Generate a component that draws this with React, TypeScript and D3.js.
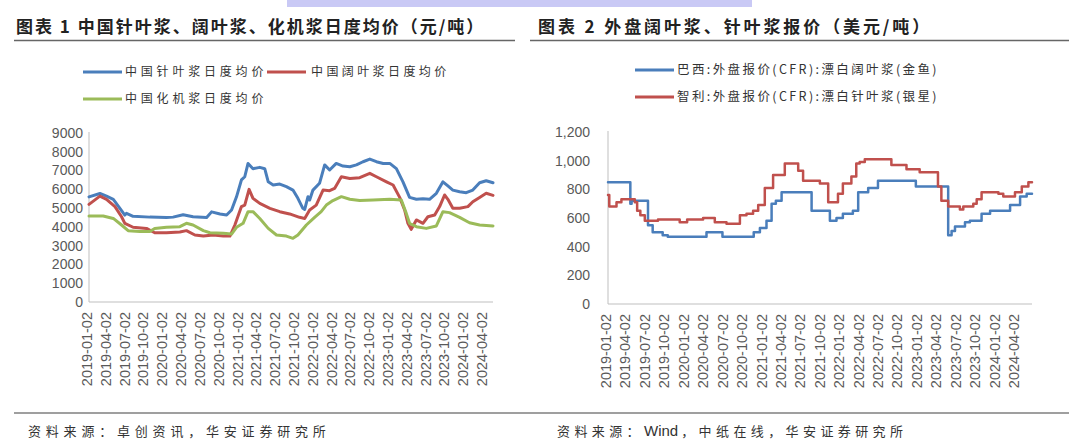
import React from "react";
import * as d3 from "d3";

// ---------- Chart 1 data (元/吨) ----------
const softwoodCN: [string, number][] = [
  ["2019-01-02", 5600], ["2019-02-24", 5780], ["2019-03-28", 5640], ["2019-04-30", 5470],
  ["2019-06-01", 4990], ["2019-06-25", 4630], ["2019-07-03", 4720], ["2019-08-04", 4560],
  ["2019-10-24", 4520], ["2020-01-13", 4500], ["2020-02-14", 4520], ["2020-04-03", 4650],
  ["2020-05-21", 4540], ["2020-07-26", 4500], ["2020-08-19", 4800], ["2020-09-29", 4690],
  ["2020-10-31", 4630], ["2020-11-24", 4900], ["2020-12-18", 5600], ["2021-01-11", 6500],
  ["2021-01-27", 6670], ["2021-02-12", 7380], ["2021-03-08", 7100], ["2021-04-10", 7170],
  ["2021-05-04", 7100], ["2021-05-21", 6400], ["2021-06-14", 6230], ["2021-07-16", 6280],
  ["2021-08-17", 6140], ["2021-09-18", 5960], ["2021-10-12", 5520], ["2021-11-05", 4990],
  ["2021-11-14", 4930], ["2021-11-30", 5610], ["2021-12-08", 5430], ["2021-12-24", 5960],
  ["2022-01-25", 6320], ["2022-02-19", 7300], ["2022-03-15", 7030], ["2022-04-16", 7380],
  ["2022-05-19", 7240], ["2022-06-21", 7200], ["2022-07-23", 7300], ["2022-08-24", 7470],
  ["2022-09-26", 7610], ["2022-10-28", 7470], ["2022-11-30", 7380], ["2023-01-01", 7380],
  ["2023-02-02", 7100], ["2023-03-06", 6400], ["2023-04-07", 5570], ["2023-05-10", 5470],
  ["2023-06-11", 5500], ["2023-07-13", 5470], ["2023-08-15", 5790], ["2023-09-16", 6400],
  ["2023-10-10", 6180], ["2023-11-03", 5960], ["2023-12-06", 5870], ["2024-01-07", 5820],
  ["2024-02-08", 5960], ["2024-03-12", 6350], ["2024-04-13", 6460], ["2024-05-16", 6350],
];

const hardwoodCN: [string, number][] = [
  ["2019-01-02", 5200], ["2019-02-24", 5640], ["2019-03-28", 5470], ["2019-05-08", 5080],
  ["2019-06-09", 4540], ["2019-06-25", 4190], ["2019-08-04", 3980], ["2019-10-08", 3920],
  ["2019-11-17", 3690], ["2020-01-13", 3690], ["2020-03-18", 3730], ["2020-04-19", 3800],
  ["2020-05-30", 3570], ["2020-07-10", 3510], ["2020-08-27", 3570], ["2020-10-15", 3510],
  ["2020-11-16", 3510], ["2020-12-10", 4100], ["2021-01-11", 5080], ["2021-01-27", 5160],
  ["2021-02-17", 6000], ["2021-03-08", 5520], ["2021-04-10", 5250], ["2021-05-29", 4990],
  ["2021-07-16", 4810], ["2021-09-02", 4690], ["2021-10-20", 4510], ["2021-11-14", 4450],
  ["2021-12-08", 4900], ["2022-01-09", 5160], ["2022-02-11", 5960], ["2022-03-15", 5930],
  ["2022-04-08", 6050], ["2022-05-11", 6670], ["2022-06-21", 6580], ["2022-08-08", 6620],
  ["2022-09-26", 6850], ["2022-10-28", 6670], ["2022-12-16", 6400], ["2023-01-17", 6230],
  ["2023-02-18", 5570], ["2023-03-14", 4900], ["2023-03-30", 4190], ["2023-04-15", 3870],
  ["2023-05-10", 4370], ["2023-06-11", 4190], ["2023-07-05", 4540], ["2023-08-07", 4630],
  ["2023-08-31", 5080], ["2023-09-24", 5700], ["2023-10-10", 5470], ["2023-11-03", 4990],
  ["2023-12-06", 4990], ["2024-01-15", 5080], ["2024-02-08", 5340], ["2024-03-12", 5570],
  ["2024-04-13", 5790], ["2024-05-16", 5680],
];

const mechanicalCN: [string, number][] = [
  ["2019-01-02", 4580], ["2019-03-12", 4580], ["2019-04-30", 4450], ["2019-06-09", 4100],
  ["2019-07-11", 3800], ["2019-09-06", 3750], ["2019-10-24", 3750], ["2019-11-17", 3920],
  ["2020-01-13", 3980], ["2020-03-18", 4010], ["2020-04-19", 4190], ["2020-05-21", 4100],
  ["2020-07-10", 3800], ["2020-08-11", 3690], ["2020-10-15", 3660], ["2020-11-24", 3620],
  ["2020-12-18", 3980], ["2021-01-19", 4190], ["2021-02-12", 4810], ["2021-03-08", 4810],
  ["2021-04-10", 4450], ["2021-05-21", 3920], ["2021-06-30", 3570], ["2021-08-17", 3510],
  ["2021-09-18", 3390], ["2021-10-12", 3570], ["2021-11-22", 4100], ["2022-01-01", 4510],
  ["2022-02-02", 4810], ["2022-02-27", 5160], ["2022-03-31", 5400], ["2022-05-11", 5610],
  ["2022-06-21", 5470], ["2022-08-08", 5400], ["2022-10-12", 5430], ["2023-01-01", 5470],
  ["2023-02-26", 5430], ["2023-03-22", 4720], ["2023-04-07", 4190], ["2023-05-10", 4010],
  ["2023-06-27", 3920], ["2023-08-15", 4050], ["2023-09-16", 4810], ["2023-10-18", 4760],
  ["2023-12-06", 4510], ["2024-01-23", 4220], ["2024-03-12", 4100], ["2024-05-16", 4050],
];

// ---------- Chart 2 data (美元/吨), step series ----------
const brazilHardwood: [string, number][] = [
  ["2019-01-02", 850], ["2019-04-17", 700], ["2019-04-23", 720], ["2019-07-09", 550],
  ["2019-07-31", 500], ["2019-09-16", 480], ["2019-10-10", 470], ["2020-04-09", 500],
  ["2020-06-23", 470], ["2020-11-17", 500], ["2020-12-16", 530], ["2021-01-16", 580],
  ["2021-02-09", 700], ["2021-03-01", 720], ["2021-03-28", 780], ["2021-08-16", 650],
  ["2021-11-10", 580], ["2021-12-11", 600], ["2022-01-10", 630], ["2022-02-26", 650],
  ["2022-03-23", 780], ["2022-05-09", 810], ["2022-06-24", 860], ["2022-12-19", 820],
  ["2023-05-20", 480], ["2023-06-05", 510], ["2023-06-21", 540], ["2023-08-07", 570],
  ["2023-08-30", 580], ["2023-10-24", 630], ["2023-12-03", 650], ["2024-03-06", 690],
  ["2024-04-22", 750], ["2024-05-23", 770], ["2024-06-17", 770],
];

const chileSoftwood: [string, number][] = [
  ["2019-01-02", 760], ["2019-01-08", 680], ["2019-02-11", 710], ["2019-03-06", 730],
  ["2019-05-08", 710], ["2019-05-19", 650], ["2019-06-03", 620], ["2019-06-24", 580],
  ["2019-08-25", 590], ["2019-12-05", 570], ["2020-01-09", 590], ["2020-03-24", 600],
  ["2020-05-18", 570], ["2020-07-12", 560], ["2020-09-13", 620], ["2020-10-14", 630],
  ["2020-11-14", 650], ["2020-12-08", 690], ["2021-01-08", 810], ["2021-02-16", 900],
  ["2021-04-12", 980], ["2021-06-14", 930], ["2021-07-07", 860], ["2021-09-24", 840],
  ["2021-11-02", 710], ["2021-12-18", 770], ["2022-01-10", 840], ["2022-02-19", 890],
  ["2022-03-14", 980], ["2022-03-30", 990], ["2022-04-23", 1010], ["2022-08-26", 970],
  ["2022-11-05", 940], ["2023-01-06", 920], ["2023-04-02", 820], ["2023-04-18", 720],
  ["2023-05-20", 680], ["2023-07-14", 660], ["2023-07-30", 680], ["2023-09-15", 700],
  ["2023-10-01", 730], ["2023-10-24", 780], ["2024-01-11", 770], ["2024-02-03", 750],
  ["2024-03-29", 780], ["2024-04-30", 820], ["2024-05-31", 850], ["2024-06-17", 850],
];

// ---------- Labels ----------
const quarterTicks = [
  "2019-01-02", "2019-04-02", "2019-07-02", "2019-10-02",
  "2020-01-02", "2020-04-02", "2020-07-02", "2020-10-02",
  "2021-01-02", "2021-04-02", "2021-07-02", "2021-10-02",
  "2022-01-02", "2022-04-02", "2022-07-02", "2022-10-02",
  "2023-01-02", "2023-04-02", "2023-07-02", "2023-10-02",
  "2024-01-02", "2024-04-02",
];
const yTicks1 = [0, 1000, 2000, 3000, 4000, 5000, 6000, 7000, 8000, 9000];
const yTicks2 = [0, 200, 400, 600, 800, 1000, 1200];
const title1 = "图表 1 中国针叶浆、阔叶浆、化机浆日度均价（元/吨）";
const title2 = "图表 2 外盘阔叶浆、针叶浆报价（美元/吨）";
const legend1 = ["中国针叶浆日度均价", "中国阔叶浆日度均价", "中国化机浆日度均价"];
const legend2 = ["巴西:外盘报价(CFR):漂白阔叶浆(金鱼)", "智利:外盘报价(CFR):漂白针叶浆(银星)"];
const source1 = "资料来源：卓创资讯，华安证券研究所";
const source2Parts = ["资料来源：", "Wind", "，中纸在线，华安证券研究所"];

const BLUE = "#4a7ebb";
const RED = "#c0504d";
const GREEN = "#9bbb59";
const AXIS = "#bfbfbf";
const LABEL = "#595959";
const NUM_FONT = "'Liberation Sans', Arial, sans-serif";
const CJK_FONT = "'Noto Sans CJK SC', sans-serif";

const parse = d3.timeParse("%Y-%m-%d");

type Series = [string, number][];

function Panel(props: {
  x0: number; x1: number; yTop: number; yBottom: number;
  endDate: string; yMax: number; yTicks: number[]; fmt: (v: number) => string;
  series: { data: Series; color: string; width: number; step: boolean }[];
  labelRight: number;
}) {
  const { x0, x1, yTop, yBottom, endDate, yMax, yTicks, fmt, series, labelRight } = props;
  const x = d3.scaleTime().domain([parse("2019-01-02")!, parse(endDate)!]).range([x0, x1]);
  const y = d3.scaleLinear().domain([0, yMax]).range([yBottom, yTop]);
  return (
    <g>
      <line x1={x0} x2={x0} y1={yTop - 1} y2={yBottom} stroke={AXIS} strokeWidth={1} />
      <line x1={x0} x2={x1} y1={yBottom} y2={yBottom} stroke={AXIS} strokeWidth={1} />
      {yTicks.map((t) => (
        <text key={t} x={labelRight} y={y(t)} dy="0.35em" textAnchor="end"
          fontFamily={NUM_FONT} fontSize={14} fill={LABEL}>{fmt(t)}</text>
      ))}
      {quarterTicks.map((t) => {
        const tx = x(parse(t)!) - 2;
        return (
          <text key={t} transform={`translate(${tx},${yBottom + 10}) rotate(-90)`}
            dy="0.36em" textAnchor="end" fontFamily={NUM_FONT} fontSize={14.5} fill={LABEL}>{t}</text>
        );
      })}
      {series.map((s, i) => {
        const line = d3.line<[string, number]>()
          .x((d) => x(parse(d[0])!))
          .y((d) => y(d[1]))
          .curve(s.step ? d3.curveStepAfter : d3.curveLinear);
        return (
          <path key={i} d={line(s.data) || ""} fill="none" stroke={s.color}
            strokeWidth={s.width} strokeLinejoin="round" strokeLinecap="round" />
        );
      })}
    </g>
  );
}

export default function App() {
  return (
    <svg width={1069} height={445} style={{ position: "absolute", left: 0, top: 0, background: "#fff" }}>
      <rect x={0} y={0} width={1069} height={445} fill="#fff" />
      {/* cut-off highlighted line at the top */}
      <rect x={287} y={0} width={465} height={7} fill="#c9c9f5" />

      {/* titles */}
      <text x={16} y={33} fontFamily={CJK_FONT} fontWeight={700} fontSize={17} letterSpacing={2} fill="#222">{title1}</text>
      <text x={538} y={33} fontFamily={CJK_FONT} fontWeight={700} fontSize={17} letterSpacing={2.9} fill="#222">{title2}</text>
      <line x1={14} x2={515} y1={40.5} y2={40.5} stroke="#666" strokeWidth={1.5} />
      <line x1={530} x2={1069} y1={40.5} y2={40.5} stroke="#666" strokeWidth={1.5} />

      {/* legend 1 */}
      <line x1={83} x2={122} y1={72} y2={72} stroke={BLUE} strokeWidth={3} />
      <text x={125} y={72} dy="0.35em" fontFamily={CJK_FONT} fontSize={12} letterSpacing={3.8} fill="#333">{legend1[0]}</text>
      <line x1={267} x2={306} y1={72} y2={72} stroke={RED} strokeWidth={3} />
      <text x={311} y={72} dy="0.35em" fontFamily={CJK_FONT} fontSize={12} letterSpacing={3.4} fill="#333">{legend1[1]}</text>
      <line x1={83} x2={122} y1={99} y2={99} stroke={GREEN} strokeWidth={3} />
      <text x={125} y={99} dy="0.35em" fontFamily={CJK_FONT} fontSize={12} letterSpacing={3.8} fill="#333">{legend1[2]}</text>

      {/* legend 2 */}
      <line x1={635} x2={674} y1={70} y2={70} stroke={BLUE} strokeWidth={3} />
      <text x={677} y={70} dy="0.35em" fontFamily={CJK_FONT} fontSize={12.5} letterSpacing={2.4} fill="#333">{legend2[0]}</text>
      <line x1={635} x2={674} y1={97} y2={97} stroke={RED} strokeWidth={3} />
      <text x={677} y={97} dy="0.35em" fontFamily={CJK_FONT} fontSize={12.5} letterSpacing={2.4} fill="#333">{legend2[1]}</text>

      <Panel x0={89} x1={493} yTop={133} yBottom={302} endDate="2024-05-16" yMax={9000}
        yTicks={yTicks1} fmt={(v) => String(v)} labelRight={83}
        series={[
          { data: softwoodCN, color: BLUE, width: 3, step: false },
          { data: hardwoodCN, color: RED, width: 3, step: false },
          { data: mechanicalCN, color: GREEN, width: 3, step: false },
        ]} />
      <Panel x0={608} x1={1032} yTop={132} yBottom={304} endDate="2024-06-17" yMax={1200}
        yTicks={yTicks2} fmt={d3.format(",")} labelRight={590}
        series={[
          { data: brazilHardwood, color: BLUE, width: 2.5, step: true },
          { data: chileSoftwood, color: RED, width: 2.5, step: true },
        ]} />

      {/* footer */}
      <line x1={14} x2={1069} y1={413} y2={413} stroke="#7f7f7f" strokeWidth={1.5} />
      <text x={28} y={431} dy="0.35em" fontFamily={CJK_FONT} fontSize={13} letterSpacing={4.8} fill="#333">{source1}</text>
      <text x={557} y={431} dy="0.35em" fontFamily={CJK_FONT} fontSize={13} letterSpacing={4.4} fill="#333">
        <tspan>{source2Parts[0]}</tspan>
        <tspan fontFamily={NUM_FONT} fontSize={15} letterSpacing={0}>{source2Parts[1]}</tspan>
        <tspan dx={3}>{source2Parts[2]}</tspan>
      </text>
    </svg>
  );
}
